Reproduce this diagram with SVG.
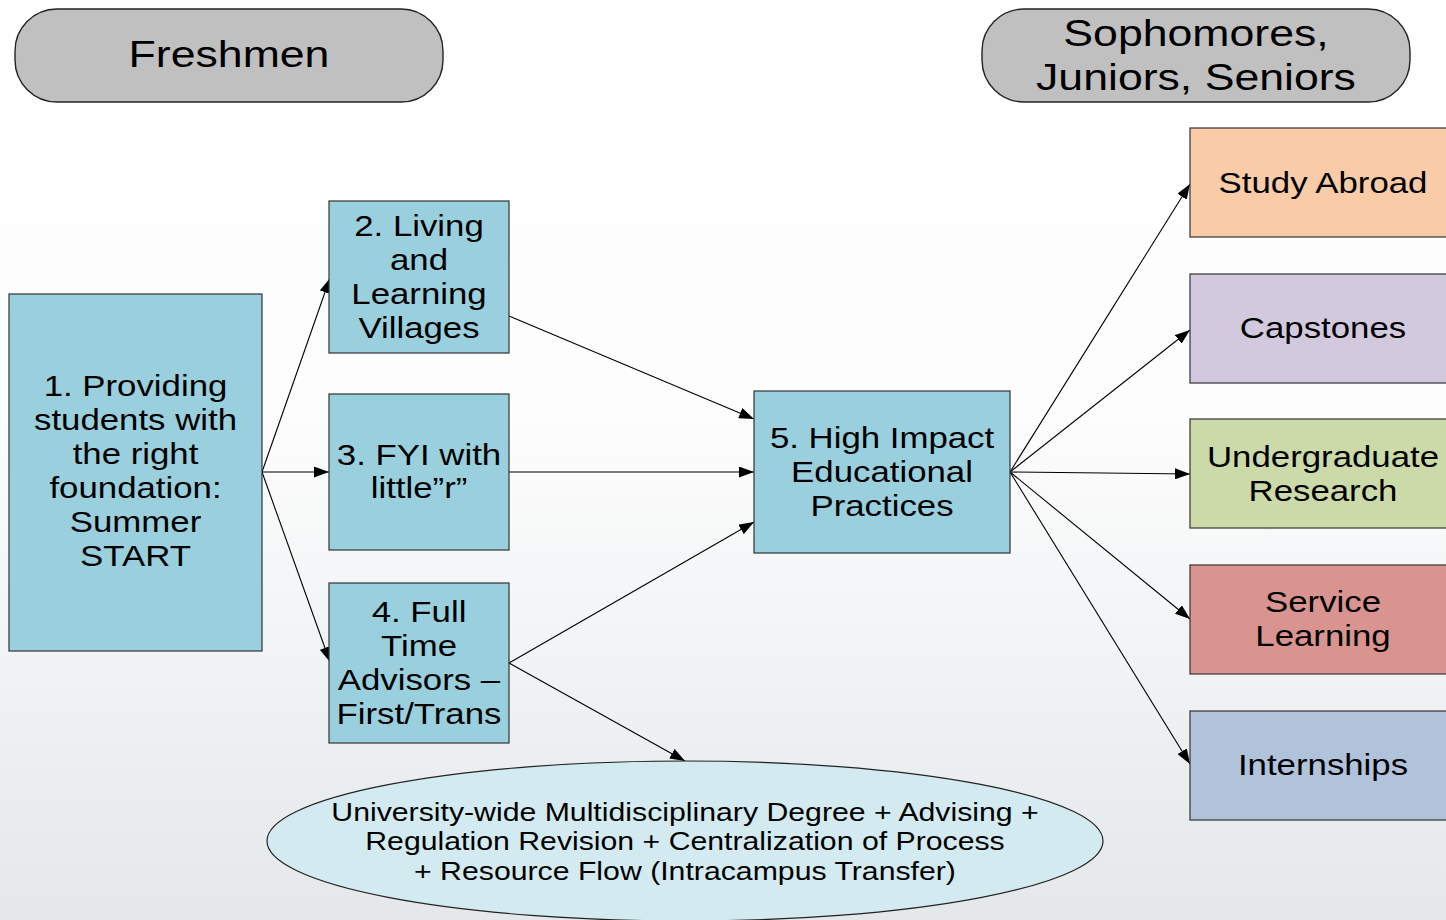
<svg xmlns="http://www.w3.org/2000/svg" width="1446" height="920" viewBox="0 0 1446 920">
<defs>
<linearGradient id="bg" x1="0" y1="0" x2="0" y2="1">
<stop offset="0" stop-color="#ffffff"/>
<stop offset="0.45" stop-color="#fdfdfd"/>
<stop offset="1" stop-color="#e4e8eb"/>
</linearGradient>
<marker id="ah" viewBox="0 0 15 11" refX="15" refY="5.5" markerWidth="15" markerHeight="11" markerUnits="userSpaceOnUse" orient="auto">
<path d="M0,0 L15,5.5 L0,11 z" fill="#000"/>
</marker>
<style>
.t{font-family:"Liberation Sans",Arial,sans-serif;font-size:29px;fill:#000;text-anchor:middle}
.h{font-size:37.5px}
.e{font-size:25px}
.box{stroke:#333;stroke-width:1.2}
.teal{fill:#9ad0de}
.hdr{fill:#c0c0c0;stroke:#222;stroke-width:1.4}
.c{stroke:#000;stroke-width:1.1;fill:none;marker-end:url(#ah)}
</style>
</defs>
<rect width="1446" height="920" fill="url(#bg)"/>

<g id="freshmen">
<rect x="15" y="9" width="428" height="93" rx="42" class="hdr"/>
<text class="t h" transform="translate(229,67) scale(1.19,1)">Freshmen</text>
</g>
<g id="upper">
<rect x="982" y="9" width="428" height="93" rx="42" class="hdr"/>
<text class="t h" transform="translate(1196,46) scale(1.19,1)">Sophomores,</text>
<text class="t h" transform="translate(1196,90) scale(1.19,1)">Juniors, Seniors</text>
</g>

<g id="connectors">
<line x1="262" y1="472" x2="330" y2="278" class="c"/>
<line x1="262" y1="472" x2="329" y2="472" class="c"/>
<line x1="262" y1="472" x2="330" y2="662" class="c"/>
<line x1="509" y1="316" x2="754" y2="419" class="c"/>
<line x1="509" y1="472" x2="754" y2="472" class="c"/>
<line x1="509" y1="663" x2="754" y2="522" class="c"/>
<line x1="509" y1="663" x2="685" y2="761" class="c"/>
<line x1="1010" y1="472" x2="1190" y2="184" class="c"/>
<line x1="1010" y1="472" x2="1190" y2="330" class="c"/>
<line x1="1010" y1="472" x2="1190" y2="474" class="c"/>
<line x1="1010" y1="472" x2="1190" y2="619" class="c"/>
<line x1="1010" y1="472" x2="1190" y2="764" class="c"/>
</g>

<g id="n1">
<rect x="9" y="294" width="253" height="357" class="box teal"/>
<text class="t" transform="translate(135.5,396) scale(1.2,1)">1. Providing</text>
<text class="t" transform="translate(135.5,430) scale(1.2,1)">students with</text>
<text class="t" transform="translate(135.5,464) scale(1.2,1)">the right</text>
<text class="t" transform="translate(135.5,498) scale(1.2,1)">foundation:</text>
<text class="t" transform="translate(135.5,532) scale(1.2,1)">Summer</text>
<text class="t" transform="translate(135.5,566) scale(1.2,1)">START</text>
</g>
<g id="n2">
<rect x="329" y="201" width="180" height="152" class="box teal"/>
<text class="t" transform="translate(419,236) scale(1.2,1)">2. Living</text>
<text class="t" transform="translate(419,270) scale(1.2,1)">and</text>
<text class="t" transform="translate(419,304) scale(1.2,1)">Learning</text>
<text class="t" transform="translate(419,338) scale(1.2,1)">Villages</text>
</g>
<g id="n3">
<rect x="329" y="394" width="180" height="156" class="box teal"/>
<text class="t" transform="translate(419,465) scale(1.2,1)">3. FYI with</text>
<text class="t" transform="translate(419,498) scale(1.2,1)">little”r”</text>
</g>
<g id="n4">
<rect x="329" y="583" width="180" height="160" class="box teal"/>
<text class="t" transform="translate(419,622) scale(1.2,1)">4. Full</text>
<text class="t" transform="translate(419,656) scale(1.2,1)">Time</text>
<text class="t" transform="translate(419,690) scale(1.2,1)">Advisors –</text>
<text class="t" transform="translate(419,724) scale(1.2,1)">First/Trans</text>
</g>
<g id="n5">
<rect x="754" y="391" width="256" height="162" class="box teal"/>
<text class="t" transform="translate(882,448) scale(1.2,1)">5. High Impact</text>
<text class="t" transform="translate(882,482) scale(1.2,1)">Educational</text>
<text class="t" transform="translate(882,516) scale(1.2,1)">Practices</text>
</g>
<g id="study-abroad">
<rect x="1190" y="128" width="270" height="109" class="box" fill="#f9cba7"/>
<text class="t" transform="translate(1323,193) scale(1.2,1)">Study Abroad</text>
</g>
<g id="capstones">
<rect x="1190" y="274" width="270" height="109" class="box" fill="#d3c9df"/>
<text class="t" transform="translate(1323,338) scale(1.2,1)">Capstones</text>
</g>
<g id="research">
<rect x="1190" y="419" width="270" height="109" class="box" fill="#ccdaa9"/>
<text class="t" transform="translate(1323,467) scale(1.2,1)">Undergraduate</text>
<text class="t" transform="translate(1323,501) scale(1.2,1)">Research</text>
</g>
<g id="service">
<rect x="1190" y="565" width="270" height="109" class="box" fill="#d9948f"/>
<text class="t" transform="translate(1323,612) scale(1.2,1)">Service</text>
<text class="t" transform="translate(1323,646) scale(1.2,1)">Learning</text>
</g>
<g id="internships">
<rect x="1190" y="711" width="270" height="109" class="box" fill="#b1c3db"/>
<text class="t" transform="translate(1323,775) scale(1.2,1)">Internships</text>
</g>
<g id="foundation">
<ellipse cx="685" cy="841" rx="418" ry="80" fill="#d3ebf0" stroke="#222" stroke-width="1.2"/>
<text class="t e" transform="translate(685,821) scale(1.21,1)">University-wide Multidisciplinary Degree + Advising +</text>
<text class="t e" transform="translate(685,850) scale(1.21,1)">Regulation Revision + Centralization of Process</text>
<text class="t e" transform="translate(685,880) scale(1.21,1)">+ Resource Flow (Intracampus Transfer)</text>
</g>
</svg>
